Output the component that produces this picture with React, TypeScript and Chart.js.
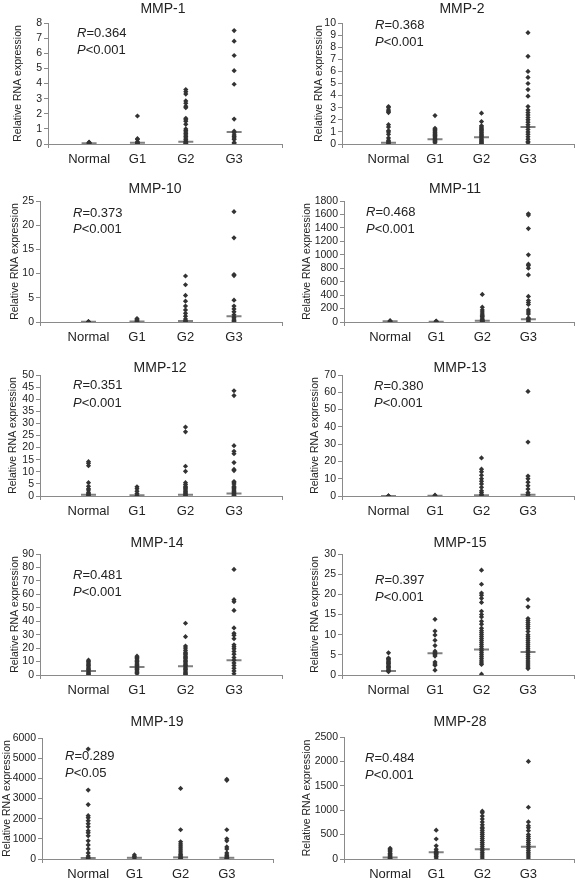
import React, { useEffect, useRef } from 'react';
import { Chart, registerables } from 'chart.js';

Chart.register(...registerables);

const CATEGORIES = ['Normal', 'G1', 'G2', 'G3'];
const GENES = ['MMP-1', 'MMP-2', 'MMP-10', 'MMP-11', 'MMP-12', 'MMP-13', 'MMP-14', 'MMP-15', 'MMP-19', 'MMP-28'];
const R_VALUES = ['0.364', '0.368', '0.373', '0.468', '0.351', '0.380', '0.481', '0.397', '0.289', '0.484'];
const P_VALUES = ['<0.001', '<0.001', '<0.001', '<0.001', '<0.001', '<0.001', '<0.001', '<0.001', '<0.05', '<0.001'];
const Y_MAX = [8, 10, 25, 1800, 50, 70, 90, 30, 6000, 2500];
const Y_STEP = [1, 1, 5, 200, 5, 10, 10, 5, 1000, 500];

// MMP-1
const MMP1_NORMAL = [0.05, 0.1, 0.08, 0.12, 0.02];
const MMP1_G1 = [1.85, 0.35, 0.3, 0.15, 0.1, 0.05, 0.02];
const MMP1_G2 = [3.6, 3.45, 3.3, 2.85, 2.7, 2.5, 2.4, 1.7, 1.6, 1.5, 1.3, 1.0, 0.9, 0.8, 0.7, 0.6, 0.5, 0.4, 0.3, 0.2, 0.15, 0.1, 0.05, 0.02];
const MMP1_G3 = [7.5, 6.8, 5.85, 4.85, 3.95, 1.65, 0.85, 0.75, 0.6, 0.5, 0.4, 0.3, 0.1, 0.05];
const MMP1_MEDIANS = [0.05, 0.08, 0.15, 0.8];

// MMP-2
const MMP2_NORMAL = [3.1, 3.0, 2.8, 2.7, 2.6, 1.6, 1.4, 1.1, 1.0, 0.8, 0.5, 0.3, 0.2, 0.1, 0.05];
const MMP2_G1 = [2.35, 1.3, 1.2, 1.1, 1.0, 0.9, 0.8, 0.7, 0.6, 0.5, 0.4, 0.3, 0.2, 0.1];
const MMP2_G2 = [2.55, 1.85, 1.5, 1.4, 1.3, 1.2, 1.1, 1.0, 0.9, 0.8, 0.7, 0.6, 0.5, 0.4, 0.3, 0.2, 0.1, 0.05];
const MMP2_G3 = [9.2, 7.25, 6.0, 5.5, 5.0, 4.5, 3.95, 3.1, 2.8, 2.6, 2.4, 2.2, 2.0, 1.8, 1.6, 1.4, 1.2, 1.0, 0.8, 0.6, 0.4, 0.2, 0.1];
const MMP2_MEDIANS = [0.1, 0.4, 0.55, 1.4];

// MMP-10
const MMP10_NORMAL = [0.05, 0.08, 0.03];
const MMP10_G1 = [0.7, 0.5, 0.3, 0.1];
const MMP10_G2 = [9.5, 7.7, 5.5, 4.3, 3.3, 2.5, 1.8, 1.2, 0.6, 0.3, 0.1];
const MMP10_G3 = [22.8, 17.4, 9.8, 9.6, 4.5, 3.3, 2.7, 2.1, 1.5, 1.0, 0.6, 0.3, 0.1];
const MMP10_MEDIANS = [0.05, 0.1, 0.2, 1.2];

// MMP-11
const MMP11_NORMAL = [20, 10, 5];
const MMP11_G1 = [15, 8, 3];
const MMP11_G2 = [410, 220, 180, 150, 120, 100, 80, 60, 40, 30, 20, 10, 5];
const MMP11_G3 = [1610, 1590, 1390, 1000, 860, 840, 800, 700, 380, 320, 290, 260, 180, 150, 120, 60, 50, 30, 10];
const MMP11_MEDIANS = [10, 5, 20, 40];

// MMP-12
const MMP12_NORMAL = [14.2, 13.5, 12.5, 5.5, 4, 3, 2.5, 1.5, 1, 0.5, 0.2];
const MMP12_G1 = [3.8, 3.0, 2.0, 1.0, 0.3];
const MMP12_G2 = [28.5, 26.5, 12.3, 10.2, 5.5, 4.8, 4, 3.5, 3, 2.5, 2, 1.5, 1, 0.5, 0.2];
const MMP12_G3 = [43.5, 41.5, 20.8, 18.5, 17.5, 13.8, 11, 10.5, 6, 5.5, 5, 4, 3.5, 3, 2.5, 2, 1.5, 1, 0.5, 0.2];
const MMP12_MEDIANS = [0.5, 0.3, 0.5, 1];

// MMP-13
const MMP13_NORMAL = [0.1, 0.05];
const MMP13_G1 = [0.5, 0.2];
const MMP13_G2 = [22, 15.5, 14, 12, 10, 8.5, 7, 5, 3, 2, 1, 0.5];
const MMP13_G3 = [60.5, 31.2, 11.5, 10, 8, 6, 4, 2, 1, 0.5];
const MMP13_MEDIANS = [0.05, 0.2, 0.5, 0.7];

// MMP-14
const MMP14_NORMAL = [11, 10, 9, 8, 7, 6, 5, 4, 3, 2, 1, 0.5];
const MMP14_G1 = [14, 13, 12, 11, 10, 9, 8, 7, 6, 5, 4, 3, 2, 1];
const MMP14_G2 = [38.5, 28.5, 21.5, 20, 18.5, 17, 16, 15, 14, 13, 12, 11, 10, 9, 8, 7, 6, 5, 4, 3, 2, 1, 0.5];
const MMP14_G3 = [78.5, 56, 54.5, 48, 35, 31, 29.5, 27, 22.5, 21, 19.5, 17.5, 15.5, 13, 11, 9, 7, 5, 3, 1];
const MMP14_MEDIANS = [3, 6, 6.5, 11];

// MMP-15
const MMP15_NORMAL = [5.5, 4.2, 4.0, 3.8, 3.5, 3.2, 3.0, 2.8, 2.5, 2.2, 2.0, 1.8, 1.5, 1.2, 1.0, 0.8];
const MMP15_G1 = [13.8, 10.9, 9.9, 8.6, 7.3, 5.9, 5.5, 5.3, 5.0, 4.7, 3.2, 2.7, 2.4, 1.2];
const MMP15_G2 = [26, 22.5, 20.3, 19.8, 19.0, 18.0, 15.8, 15.0, 14.4, 13.3, 12.6, 11.6, 11.0, 10.5, 10.0, 9.5, 9.0, 8.5, 8.0, 7.5, 7.0, 6.5, 6.0, 5.5, 5.0, 4.5, 4.0, 3.5, 3.0, 2.6, 0.2];
const MMP15_G3 = [18.7, 16.9, 14.0, 13.5, 13.0, 12.5, 12.0, 11.5, 10.8, 10.0, 9.5, 9.0, 8.5, 8.0, 7.5, 7.0, 6.5, 6.0, 5.5, 5.0, 4.5, 4.0, 3.5, 3.0, 2.5, 2.0, 1.6];
const MMP15_MEDIANS = [1.0, 5.4, 6.3, 5.7];

// MMP-19
const MMP19_NORMAL = [5450, 3420, 2700, 2150, 2050, 1900, 1750, 1600, 1400, 1300, 1150, 900, 700, 500, 300, 150, 80, 30];
const MMP19_G1 = [200, 120, 50];
const MMP19_G2 = [3500, 1450, 850, 750, 650, 550, 450, 350, 250, 200, 150, 100, 50, 20];
const MMP19_G3 = [3950, 3900, 1450, 1000, 900, 600, 500, 300, 200, 150, 100, 50, 20];
const MMP19_MEDIANS = [50, 60, 80, 60];

// MMP-28
const MMP28_NORMAL = [220, 200, 180, 150, 120, 100, 80, 60, 40, 20, 10];
const MMP28_G1 = [590, 410, 270, 200, 160, 140, 120, 100, 80, 50, 20];
const MMP28_G2 = [980, 950, 880, 820, 760, 700, 650, 620, 580, 540, 500, 460, 420, 380, 340, 300, 260, 220, 180, 140, 100, 60, 20];
const MMP28_G3 = [2000, 1060, 760, 680, 640, 580, 500, 460, 420, 380, 340, 300, 260, 220, 180, 140, 100, 60, 20];
const MMP28_MEDIANS = [30, 140, 200, 250];

const GROUP_DATA = [
  [MMP1_NORMAL, MMP1_G1, MMP1_G2, MMP1_G3],
  [MMP2_NORMAL, MMP2_G1, MMP2_G2, MMP2_G3],
  [MMP10_NORMAL, MMP10_G1, MMP10_G2, MMP10_G3],
  [MMP11_NORMAL, MMP11_G1, MMP11_G2, MMP11_G3],
  [MMP12_NORMAL, MMP12_G1, MMP12_G2, MMP12_G3],
  [MMP13_NORMAL, MMP13_G1, MMP13_G2, MMP13_G3],
  [MMP14_NORMAL, MMP14_G1, MMP14_G2, MMP14_G3],
  [MMP15_NORMAL, MMP15_G1, MMP15_G2, MMP15_G3],
  [MMP19_NORMAL, MMP19_G1, MMP19_G2, MMP19_G3],
  [MMP28_NORMAL, MMP28_G1, MMP28_G2, MMP28_G3],
];
const MEDIANS = [MMP1_MEDIANS, MMP2_MEDIANS, MMP10_MEDIANS, MMP11_MEDIANS, MMP12_MEDIANS, MMP13_MEDIANS, MMP14_MEDIANS, MMP15_MEDIANS, MMP19_MEDIANS, MMP28_MEDIANS];

// Layout (page pixel coordinates)
const LAYOUT = [
  { left: 0, top: 0, w: 292, h: 176, axisX: 48, right: 287, plotTop: 23, plotBottom: 144, xMin: 0.15, titleX: 163, titleY: 9, textX: 77, rY: 33, pY: 50, yTitleX: 18 },
  { left: 292, top: 0, w: 292, h: 176, axisX: 342, right: 584, plotTop: 23, plotBottom: 144, xMin: 0, titleX: 462, titleY: 9, textX: 375, rY: 25, pY: 42, yTitleX: 319 },
  { left: 0, top: 176, w: 292, h: 176, axisX: 40, right: 283, plotTop: 201, plotBottom: 322, xMin: 0, titleX: 155, titleY: 189, textX: 73, rY: 213, pY: 229, yTitleX: 15 },
  { left: 292, top: 176, w: 292, h: 176, axisX: 344, right: 575, plotTop: 201, plotBottom: 322, xMin: 0, titleX: 455, titleY: 189, textX: 366, rY: 212, pY: 229, yTitleX: 307 },
  { left: 0, top: 352, w: 292, h: 178, axisX: 40, right: 283, plotTop: 375, plotBottom: 496, xMin: 0, titleX: 160, titleY: 368, textX: 73, rY: 385, pY: 403, yTitleX: 13 },
  { left: 292, top: 352, w: 292, h: 178, axisX: 342, right: 584, plotTop: 375, plotBottom: 496, xMin: 0, titleX: 460, titleY: 368, textX: 374, rY: 386, pY: 403, yTitleX: 315 },
  { left: 0, top: 530, w: 292, h: 179, axisX: 40, right: 283, plotTop: 554, plotBottom: 675, xMin: 0, titleX: 157, titleY: 543, textX: 73, rY: 575, pY: 592, yTitleX: 15 },
  { left: 292, top: 530, w: 292, h: 179, axisX: 342, right: 584, plotTop: 554, plotBottom: 675, xMin: 0, titleX: 460, titleY: 543, textX: 375, rY: 580, pY: 597, yTitleX: 315 },
  { left: 0, top: 709, w: 292, h: 170, axisX: 42, right: 273, plotTop: 738, plotBottom: 859, xMin: 0, titleX: 157, titleY: 722, textX: 65, rY: 756, pY: 773, yTitleX: 7 },
  { left: 292, top: 709, w: 292, h: 170, axisX: 344, right: 575, plotTop: 737, plotBottom: 859, xMin: 0, titleX: 460, titleY: 722, textX: 365, rY: 758, pY: 775, yTitleX: 307 },
];

const FONT = '"Liberation Sans", Arial, sans-serif';
const AXIS_COLOR = '#8a8a8a';
const TEXT_COLOR = '#222222';
const DOT_COLOR = '#333333';

function makeChart(canvas: HTMLCanvasElement, i: number) {
  const L = LAYOUT[i];
  const dots = GROUP_DATA[i].flatMap((vals, g) => vals.map((v) => ({ x: g + 1, y: v })));
  const meds = MEDIANS[i].map((m, g) => ({ x: g + 1, y: m }));
  const xAxisH = L.h - (L.plotBottom - L.top);
  const yAxisW = L.axisX - L.left;
  const yTitleFont = 10.5;

  const textPlugin = {
    id: 'panelText' + i,
    afterDraw(chart: any) {
      const ctx = chart.ctx;
      ctx.save();
      ctx.fillStyle = TEXT_COLOR;
      ctx.textBaseline = 'middle';
      ctx.textAlign = 'center';
      ctx.font = `14px ${FONT}`;
      ctx.fillText(GENES[i], L.titleX - L.left, L.titleY - L.top);
      ctx.textAlign = 'left';
      const drawStat = (letter: string, rest: string, y: number) => {
        const x = L.textX - L.left;
        ctx.font = `italic 13px ${FONT}`;
        ctx.fillText(letter, x, y - L.top);
        const w = ctx.measureText(letter).width;
        ctx.font = `13px ${FONT}`;
        ctx.fillText(rest, x + w, y - L.top);
      };
      drawStat('R', '=' + R_VALUES[i], L.rY);
      drawStat('P', P_VALUES[i], L.pY);
      ctx.restore();
    },
  };

  return new Chart(canvas, {
    type: 'scatter',
    data: {
      datasets: [
        {
          data: dots,
          pointStyle: 'rectRot',
          pointRadius: 2.6,
          pointBackgroundColor: DOT_COLOR,
          pointBorderColor: DOT_COLOR,
          pointBorderWidth: 0,
          showLine: false,
        },
        {
          data: meds,
          pointStyle: 'line',
          pointRadius: 7.5,
          pointBorderColor: '#808080',
          pointBorderWidth: 2,
          showLine: false,
        },
      ],
    },
    options: {
      animation: false,
      responsive: false,
      devicePixelRatio: 1,
      events: [],
      layout: { padding: { top: L.plotTop - L.top, left: 0, right: L.left + L.w - L.right, bottom: 0 } },
      plugins: { legend: { display: false }, tooltip: { enabled: false }, title: { display: false } },
      scales: {
        x: {
          type: 'linear',
          min: L.xMin,
          max: 5,
          afterBuildTicks: (s: any) => {
            s.ticks = [L.xMin, 1, 2, 3, 4, 5].map((v) => ({ value: v }));
          },
          afterFit: (s: any) => {
            s.height = xAxisH;
          },
          ticks: {
            autoSkip: false,
            maxRotation: 0,
            padding: 4,
            color: TEXT_COLOR,
            font: { family: FONT, size: 13 },
            callback: (v: any) => CATEGORIES[Number(v) - 1] ?? '',
          },
          grid: {
            drawOnChartArea: false,
            drawTicks: true,
            tickLength: 4,
            tickColor: (ctx: any) => {
              const v = ctx.tick ? ctx.tick.value : 0;
              return v >= 1 && v <= 4 ? 'rgba(0,0,0,0)' : AXIS_COLOR;
            },
          },
          border: { display: true, color: AXIS_COLOR, width: 1 },
        },
        y: {
          type: 'linear',
          min: 0,
          max: Y_MAX[i],
          afterFit: (s: any) => {
            s.width = yAxisW;
          },
          ticks: {
            stepSize: Y_STEP[i],
            autoSkip: false,
            padding: 2,
            color: TEXT_COLOR,
            font: { family: FONT, size: 10.5 },
            callback: (v: any) => String(v),
          },
          grid: { drawOnChartArea: false, drawTicks: true, tickLength: 4, tickColor: AXIS_COLOR },
          border: { display: true, color: AXIS_COLOR, width: 1 },
          title: {
            display: true,
            text: 'Relative RNA expression',
            color: TEXT_COLOR,
            font: { family: FONT, size: yTitleFont },
            padding: { top: Math.max(0, L.yTitleX - L.left - (yTitleFont * 1.2) / 2), bottom: 0 },
          },
        },
      },
    },
    plugins: [textPlugin],
  } as any);
}

export default function App() {
  const refs = useRef<(HTMLCanvasElement | null)[]>([]);

  useEffect(() => {
    const charts = LAYOUT.map((_, i) => (refs.current[i] ? makeChart(refs.current[i] as HTMLCanvasElement, i) : null));
    return () => {
      charts.forEach((c) => c && c.destroy());
    };
  }, []);

  return (
    <div style={{ position: 'absolute', left: 0, top: 0, width: 584, height: 879, background: '#ffffff', overflow: 'hidden' }}>
      {LAYOUT.map((L, i) => (
        <canvas
          key={i}
          ref={(el) => {
            refs.current[i] = el;
          }}
          width={L.w}
          height={L.h}
          style={{ position: 'absolute', left: L.left, top: L.top, width: L.w, height: L.h, display: 'block' }}
        />
      ))}
    </div>
  );
}
